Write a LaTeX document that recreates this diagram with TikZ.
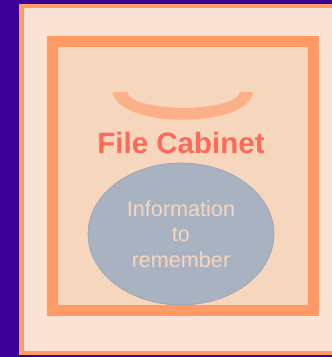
\documentclass[tikz,border=0pt]{standalone}
\usepackage{fontspec}
\setmainfont{Liberation Sans}
\usepackage{tikz}
\usetikzlibrary{shapes.geometric,positioning}
\definecolor{bgpurple}{HTML}{3C0096}
\definecolor{panelfill}{HTML}{FAE3D4}
\definecolor{edgeorange}{HTML}{FF9966}
\definecolor{cabfill}{HTML}{F7D6BE}
\definecolor{handlecol}{HTML}{FCB088}
\definecolor{titlecol}{HTML}{FF6A57}
\definecolor{infofill}{HTML}{A8B2C0}
\definecolor{infoedge}{HTML}{979FAC}

\begin{document}
\begin{tikzpicture}[
    x=1pt, y=-1pt,
    cabinet/.style={rectangle, draw=edgeorange, line width=11pt, fill=cabfill,
                    minimum width=261.5pt, minimum height=268.5pt, inner sep=0pt},
    infonode/.style={ellipse, draw=infoedge, line width=0.6pt, fill=infofill,
                     minimum width=186pt, minimum height=142pt, inner sep=0pt,
                     align=center, text=cabfill,
                     font=\fontsize{21.6}{25.5}\selectfont}
]
    % Page and background panel
    \useasboundingbox (0,0) rectangle (332,357);
    \clip (0,0) rectangle (332,357);
    \fill[bgpurple] (0,0) rectangle (332,357);
    \draw[edgeorange, line width=4.5pt, fill=panelfill] (21.5,6) rectangle (345,353);

    % The cabinet
    \node[cabinet] (cab) at (182.75,175.75) {};

    % Handle
    \fill[handlecol] (113,92) -- (127,92)
        .. controls (131,113) and (236,113) .. (240,92)
        -- (253,92)
        .. controls (249,129) and (117,129) .. (113,92) -- cycle;

    % Title and contents
    \node[text=titlecol, font=\fontsize{29.5}{31}\selectfont\bfseries] (title) at (181,142.5) {File Cabinet};
    \node[infonode] (info) at (181,234) {Information\\to\\remember};
\end{tikzpicture}
\end{document}
